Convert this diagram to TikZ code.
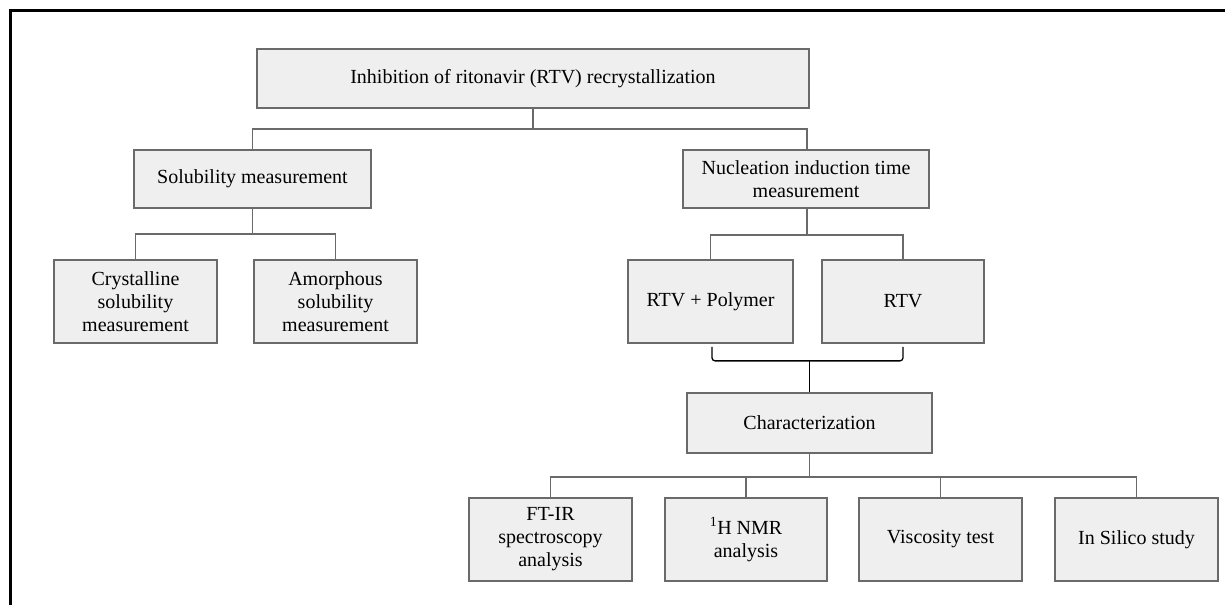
\documentclass[tikz,border=0pt]{standalone}
\usepackage{fontspec}
\setmainfont{Liberation Serif}
\usetikzlibrary{calc}
\definecolor{boxfill}{HTML}{EFEFEF}
\definecolor{boxline}{HTML}{6A6A6A}
\tikzset{
  blk/.style={draw=boxline, fill=boxfill, line width=1.7pt, align=center, inner sep=0pt,
    font=\fontsize{20}{23}\selectfont, text=black},
  conn/.style={draw=boxline, line width=1.7pt},
  brk/.style={draw=black, line width=1.3pt, rounded corners=3pt},
  frm/.style={draw=black, line width=3pt},
}
\begin{document}
\begin{tikzpicture}[x=1pt,y=-1pt]
\useasboundingbox (0,0) rectangle (1225,605);
\draw[frm] (10,605) -- (10,10) -- (1226,10);

\node[blk, minimum width=552, minimum height=59] (top) at (533,78.5) {Inhibition of ritonavir (RTV) recrystallization};
\node[blk, minimum width=237, minimum height=58] (sol) at (252.5,179) {Solubility measurement};
\node[blk, minimum width=246, minimum height=58] (nuc) at (806,179) {Nucleation induction time\\measurement};
\node[blk, minimum width=163, minimum height=83] (cry) at (135.5,301.5) {Crystalline\\solubility\\measurement};
\node[blk, minimum width=163, minimum height=83] (amo) at (335.5,301.5) {Amorphous\\solubility\\measurement};
\node[blk, minimum width=165, minimum height=83] (rtvp) at (710.5,301.5) {RTV + Polymer};
\node[blk, minimum width=162, minimum height=83] (rtv) at (903,301.5) {RTV};
\node[blk, minimum width=245, minimum height=60] (char) at (809.5,423) {Characterization};
\node[blk, minimum width=163, minimum height=83] (ftir) at (550.5,539.5) {FT-IR\\spectroscopy\\analysis};
\node[blk, minimum width=162, minimum height=83] (nmr) at (746,539.5) {\textsuperscript{1}H NMR\\analysis};
\node[blk, minimum width=163, minimum height=83] (visc) at (940.5,539.5) {Viscosity test};
\node[blk, minimum width=163, minimum height=83] (insil) at (1136.5,539.5) {In Silico study};

% top level
\coordinate (t1) at ($(top.south)+(0,20)$);
\draw[conn] (top.south) -- (t1);
\draw[conn] (sol.north) |- (t1) -| ([xshift=1pt]nuc.north);

% solubility
\coordinate (s1) at ($(sol.south)+(0,25)$);
\draw[conn] (sol.south) -- (s1);
\draw[conn] (cry.north) |- (s1) -| (amo.north);

% nucleation
\coordinate (n1) at ($([xshift=1pt]nuc.south)+(0,26)$);
\draw[conn] ([xshift=1pt]nuc.south) -- (n1);
\draw[conn] (rtvp.north) |- (n1) -| (rtv.north);

% bracket
\coordinate (b0) at ($(rtvp.south)+(1.5,3)$);
\coordinate (b2) at ($(rtv.south)+(0,3)$);
\coordinate (bm) at (char.north |- 0,360);
\draw[brk] (b0) -- ($(b0)+(0,14)$) -- ($(b2)+(0,14)$) -- (b2);
\draw[draw=black, line width=1.3pt] (bm) -- (char.north);

% characterization
\coordinate (c1) at ($(char.south)+(0,23)$);
\draw[conn] (char.south) -- (c1);
\draw[conn] (ftir.north) |- (c1) -| (insil.north);
\draw[conn] (nmr.north) -- (nmr.north |- c1);
\draw[conn] (visc.north) -- (visc.north |- c1);
\end{tikzpicture}
\end{document}
